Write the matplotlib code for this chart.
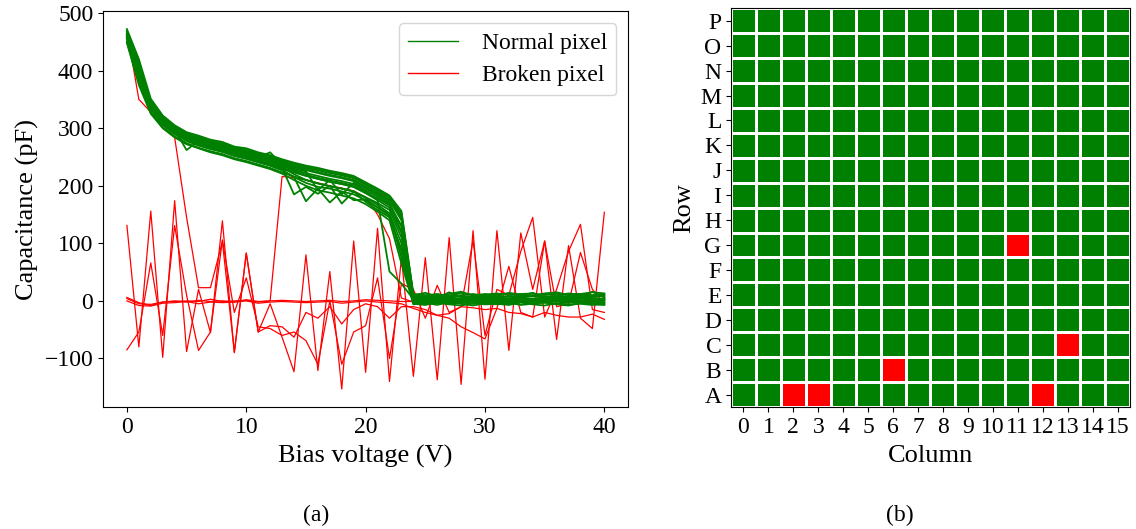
import numpy as np
import matplotlib
matplotlib.use("Agg")
import matplotlib.pyplot as plt
from matplotlib.colors import ListedColormap
from matplotlib.lines import Line2D

plt.rcParams['font.family'] = 'serif'
plt.rcParams['font.serif'] = ['Liberation Serif', 'DejaVu Serif']

# bias voltage steps (V)
bias = list(range(41))

# capacitance of normal pixels (pF)
g1 = [472, 420, 351, 322, 305, 293, 287, 280, 276, 268, 265, 258, 253, 246, 240, 235, 231, 226, 222, 217, 206,
      195, 183, 156, 12, 10, 11, 9, 14, 10, 11, 13, 10, 12, 13, 10, 13, 11, 12, 15, 13]
g2 = [467, 410, 346, 319, 302, 290, 283, 277, 272, 265, 261, 255, 249, 242, 236, 231, 227, 222, 218, 213, 202,
      191, 179, 148, 9, 7, 9, 6, 8, 7, 9, 8, 7, 9, 8, 7, 9, 8, 10, 9, 8]
g3 = [464, 405, 342, 316, 299, 287, 280, 274, 269, 262, 258, 251, 245, 238, 232, 227, 222, 217, 213, 208, 197,
      186, 174, 140, 6, 4, 6, 3, 5, 4, 6, 5, 3, 6, 4, 5, 7, 5, 6, 5, 4]
g4 = [461, 400, 338, 312, 295, 283, 276, 270, 265, 258, 254, 247, 241, 234, 228, 222, 217, 212, 208, 203, 192,
      181, 168, 130, 3, 2, 4, 1, 3, 2, 4, 3, 1, 4, 2, 3, 5, 3, 4, 3, 2]
g5 = [457, 393, 334, 308, 292, 280, 272, 266, 261, 254, 249, 243, 237, 229, 223, 217, 212, 207, 203, 198, 187,
      175, 162, 118, 1, -1, 2, -2, 0, -1, 1, 0, -2, 1, -1, 0, 2, 0, 1, 0, -1]
g6 = [450, 380, 327, 302, 286, 274, 266, 260, 255, 248, 243, 237, 231, 223, 216, 210, 204, 199, 195, 190, 179,
      167, 152, 100, -2, -4, -1, -5, -3, -4, -2, -3, -5, -2, -4, -3, -1, -3, -2, -3, -4]
g7 = [459, 398, 336, 310, 293, 281, 274, 268, 263, 256, 251, 245, 239, 231, 185, 198, 186, 200, 169, 190, 172,
      158, 145, 90, 4, 8, 5, 15, 7, 5, 3, 6, 4, 9, 14, 6, 3, 5, 7, 16, 6]
g8 = [455, 390, 331, 306, 290, 278, 270, 264, 259, 252, 247, 241, 235, 227, 215, 173, 195, 171, 190, 175, 176,
      163, 150, 75, -6, -3, -7, -2, -5, -8, -4, -6, -3, -7, -5, -2, -6, -8, -4, -5, -7]
g9 = [462, 403, 340, 314, 297, 262, 278, 272, 267, 260, 256, 249, 258, 236, 230, 225, 192, 210, 185, 205, 195,
      184, 171, 120, 10, 14, 8, 12, 16, 9, 12, 8, 14, 11, 9, 13, 15, 10, 12, 9, 11]
g10 = [458, 397, 335, 309, 292, 281, 273, 267, 262, 255, 250, 244, 238, 231, 225, 219, 214, 209, 205, 200, 190,
       175, 51, 30, 3, 1, 5, 2, 0, 4, 2, 1, 3, 5, 2, 0, 3, 4, 1, 2, 3]
g11 = [469, 414, 348, 320, 303, 291, 285, 278, 274, 266, 263, 256, 251, 244, 238, 233, 229, 224, 220, 215, 204,
       193, 181, 152, 11, 9, 12, 8, 10, 12, 9, 11, 13, 10, 9, 12, 10, 13, 11, 10, 12]
g12 = [465, 407, 344, 317, 300, 288, 281, 275, 270, 263, 259, 253, 247, 240, 234, 229, 224, 219, 215, 210, 199,
       188, 176, 144, 7, 8, 5, 7, 9, 6, 8, 6, 8, 7, 10, 6, 8, 7, 9, 7, 9]
g13 = [462, 402, 339, 314, 297, 285, 278, 272, 267, 260, 256, 249, 243, 236, 226, 218, 212, 207, 203, 198, 188,
       178, 166, 130, 4, 5, 3, 5, 2, 6, 3, 4, 2, 5, 3, 6, 4, 2, 5, 4, 3]
g14 = [459, 395, 336, 310, 294, 282, 274, 268, 263, 256, 252, 245, 239, 232, 220, 210, 204, 199, 195, 190, 180,
       170, 158, 110, 0, 2, -1, 1, 3, 0, -1, 2, 0, -1, 1, 3, 0, 1, -1, 2, 0]
g15 = [455, 388, 332, 306, 290, 278, 270, 264, 259, 252, 247, 241, 235, 227, 215, 205, 198, 195, 190, 185, 175,
       162, 148, 85, -3, -1, -4, 0, -2, -5, -1, -3, -4, 0, -2, -3, -5, -1, -2, -4, -3]
g16 = [448, 375, 325, 300, 284, 272, 265, 258, 253, 246, 241, 235, 229, 221, 210, 200, 192, 188, 183, 178, 168,
       155, 140, 65, -5, -7, -3, -6, -8, -4, -6, -5, -7, -3, -6, -8, -4, -6, -5, -7, -6]
normal = [g1, g2, g3, g4, g5, g6, g7, g8, g9, g10, g11, g12, g13, g14, g15, g16]

# capacitance of broken pixels (pF)
r1 = [470, 350, 328, 300, 284, 145, 23, 23, 103, -89, 83, -54, -43, -45, -63, -20, -30, -10, -40, -15, -5,
      -10, -30, -10, -10, -15, -25, -30, -45, -55, -66, -13, 60, -20, -28, 104, -10, -5, 84, 20, -5]
r2 = [131, -80, 156, -98, 174, -88, 20, -55, 139, -90, 83, -54, -5, -63, -123, 80, -121, 51, -153, 104, -124,
      126, -140, 75, -131, 75, -137, 110, -145, 122, -136, 122, -86, 118, 20, 104, -67, 96, -30, -48, 154]
r3 = [-85, -54, 66, -60, 131, 10, -86, -54, 106, -20, 40, -45, -48, -60, -54, -69, -110, 0, -110, -54, -43,
      40, -100, 30, 20, -30, 27, -20, -10, 105, -60, 20, 10, 86, 145, -28, 20, 86, 133, -15, -20]
r4 = [4, -5, -6, -2, 0, -2, 1, -1, 0, -2, 2, -1, 0, 216, 214, 210, 205, 200, 196, 191, 180,
      150, 108, 5, -2, 0, 2, -1, 1, 0, 3, 1, -1, 2, 0, 1, 2, 0, 1, -1, 0]
r5 = [6, -3, -8, -2, -1, 0, -1, 3, -1, 0, 1, -2, 0, 1, 0, -1, 0, 1, -1, 0, 2,
      1, 0, -1, -1, 0, 2, 1, 0, 1, -1, 0, 2, 1, 0, -1, 1, 2, 0, 1, -1]
r6 = [0, -8, -9, -4, -3, -1, -5, -2, -3, -2, 0, -4, -2, -1, -2, -3, -2, -1, -4, -2, 0,
      -2, -3, -5, -13, -20, -25, -22, -10, -12, -15, -13, -20, -22, -28, -20, -25, -28, -28, -23, -32]
broken = [r1, r2, r3, r4, r5, r6]

# pixel map
row_labels = list("ABCDEFGHIJKLMNOP")
col_labels = [str(i) for i in range(16)]
broken_rows = ['A', 'A', 'A', 'B', 'C', 'G']
broken_cols = [2, 3, 12, 6, 13, 11]

fig = plt.figure(figsize=(11.36, 5.29), dpi=100)

ax = fig.add_axes([0.0907, 0.2306, 0.4623, 0.7484])
for c in broken:
    ax.plot(bias, c, color='red', lw=0.9)
for c in normal:
    ax.plot(bias, c, color='green', lw=1.3)
ax.set_xlabel('Bias voltage (V)', fontsize=19, labelpad=5)
ax.set_ylabel('Capacitance (pF)', fontsize=19, labelpad=4)
ax.tick_params(labelsize=17)
ax.set_xticks([0, 10, 20, 30, 40])
ax.set_yticks([-100, 0, 100, 200, 300, 400, 500])
handles = [Line2D([], [], color='green', lw=1), Line2D([], [], color='red', lw=1)]
ax.legend(handles, ['Normal pixel', 'Broken pixel'], loc='upper right', fontsize=17,
          handlelength=2.1, handletextpad=1.0, labelspacing=0.45)

grid = np.zeros((16, 16))
for r, c in zip(broken_rows, broken_cols):
    grid[row_labels.index(r), c] = 1

ax2 = fig.add_axes([0.6435, 0.2306, 0.3512, 0.7537])
ax2.pcolormesh(np.arange(17) - 0.5, np.arange(17) - 0.5, grid,
               cmap=ListedColormap(['green', 'red']), vmin=0, vmax=1,
               edgecolors='white', linewidth=2)
ax2.set_xlim(-0.5, 15.5)
ax2.set_ylim(-0.5, 15.5)
ax2.set_xticks(range(16))
ax2.set_xticklabels(col_labels)
ax2.set_yticks(range(16))
ax2.set_yticklabels(row_labels)
ax2.tick_params(labelsize=17)
ax2.set_xlabel('Column', fontsize=19, labelpad=5)
ax2.set_ylabel('Row', fontsize=19, labelpad=4)

fig.text(0.278, 0.015, '(a)', ha='center', fontsize=17)
fig.text(0.792, 0.015, '(b)', ha='center', fontsize=17)

fig.savefig('out.png', dpi=100)
